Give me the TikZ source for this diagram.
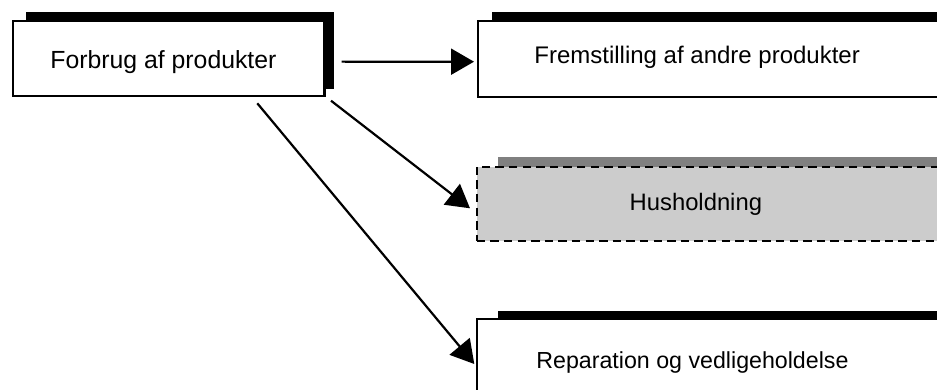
\documentclass[tikz,border=0pt]{standalone}
\usepackage{fontspec}
\setmainfont{Liberation Sans}
\usetikzlibrary{arrows.meta,calc}
\definecolor{hhfill}{HTML}{CCCCCC}
\definecolor{hhshadow}{HTML}{808080}
\begin{document}
\begin{tikzpicture}[x=0.5pt,y=-0.5pt,
  box/.style={draw=black, line width=1.1pt, fill=white, inner sep=0pt, outer sep=0pt, anchor=north west},
  dashbox/.style={box, fill=hhfill, line width=1.2pt, dash pattern=on 4.2pt off 2.6pt},
  shadowblk/.style={fill=black},
  shadowgry/.style={fill=hhshadow},
  lbl/.style={inner sep=0pt, anchor=base west},
  arr/.style={line width=1.1pt, -{Triangle[length=11.5pt,width=13pt]}}]
\clip (0,0) rectangle (937,390);
\fill[white] (0,0) rectangle (937,390);
% shadows
\fill[shadowblk] (26,11.7) rectangle (334,89);
\fill[shadowblk] (492.3,11.7) rectangle (980,89);
\fill[shadowgry] (497.7,157.3) rectangle (980,235);
\fill[shadowblk] (497.7,310.7) rectangle (980,420);
% boxes
\node[box, minimum width=155.9pt, minimum height=37.65pt] (b1) at (12.7,20.7) {};
\node[box, minimum width=250pt, minimum height=38pt] (b2) at (477.7,20.7) {};
\node[dashbox, minimum width=250pt, minimum height=37.15pt] (b3) at (476.7,166.7) {};
\node[box, minimum width=250pt, minimum height=50pt] (b4) at (476.7,319.3) {};
% labels
\node[lbl, font=\fontsize{12.4}{14}\selectfont] (t1) at (50,68.3) {Forbrug af produkter};
\node[lbl, font=\fontsize{12}{14}\selectfont] (t2) at (534,63.3) {Fremstilling af andre produkter};
\node[lbl, font=\fontsize{11.9}{14}\selectfont] (t3) at (629.3,210) {Husholdning};
\node[lbl, font=\fontsize{11.6}{14}\selectfont] (t4) at (536,368.3) {Reparation og vedligeholdelse};
% connectors
\draw[arr] ($(b1.east)+(17.2,3.3)$) -- ($(b2.west)+(-3.7,3)$);
\draw[arr] ($(b1.south east)+(6.5,4.7)$) -- ($(b3.west)+(-6.7,4.45)$);
\draw[arr] ($(b1.south east)+(-67.2,7.3)$) -- ($(b4.north west)+(-2.4,44.7)$);
\end{tikzpicture}
\end{document}
